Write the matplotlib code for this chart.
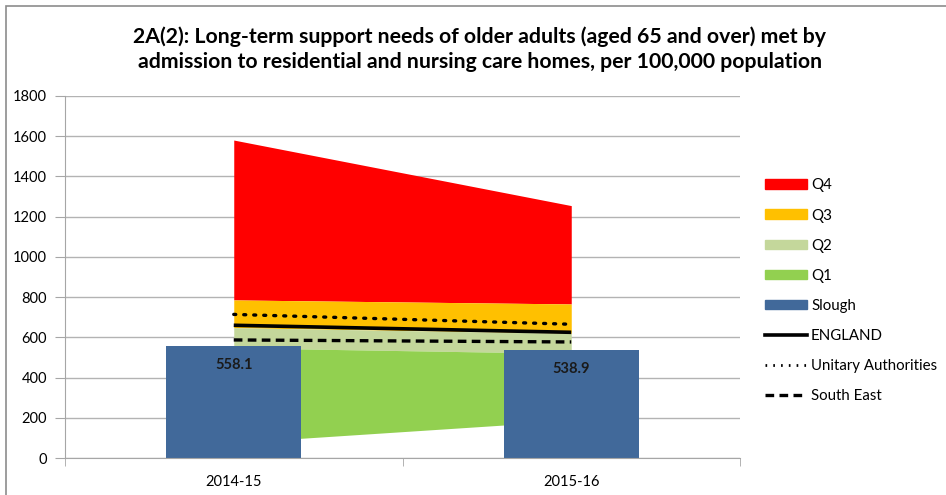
import matplotlib.pyplot as plt
from matplotlib.patches import Rectangle, Patch
from matplotlib.lines import Line2D

plt.rcParams['font.family'] = ['Lato', 'DejaVu Sans']

years = ['2014-15', '2015-16']
slough = [558.1, 538.9]

# quartile band boundaries across councils
q_min = [76, 186]
q1_top = [548, 520]
q2_top = [648, 620]
q3_top = [786, 766]
q4_top = [1581, 1255]

england = [660, 625]
unitary = [714, 665]
south_east = [587, 577]

fig = plt.figure(figsize=(9.46, 4.95), dpi=100)
ax = fig.add_axes([65 / 946, 37 / 495, 675 / 946, 362 / 495])

x = [0, 1]
ax.fill_between(x, q3_top, q4_top, color='#FF0000', lw=0, zorder=1)
ax.fill_between(x, q2_top, q3_top, color='#FFC000', lw=0, zorder=1)
ax.fill_between(x, q1_top, q2_top, color='#C4D79B', lw=0, zorder=1)
ax.fill_between(x, q_min, q1_top, color='#92D050', lw=0, zorder=1)

bars = ax.bar(x, slough, width=0.4, color='#41699A', zorder=2)
for b, v in zip(bars, slough):
    ax.text(b.get_x() + b.get_width() / 2, v - 60, f'{v:.1f}', ha='center', va='top',
            fontsize=10.5, fontweight='bold', color='#1a1a1a', zorder=4)

ax.plot(x, england, color='black', lw=2.6, solid_capstyle='butt', zorder=3)
ax.plot(x, unitary, color='black', lw=2.4, linestyle=(0, (0.6, 2.4)), dash_capstyle='round', zorder=3)
ax.plot(x, south_east, color='black', lw=2.4, linestyle=(0, (2.6, 1.6)), zorder=3)

ax.set_xlim(-0.5, 1.5)
ax.set_ylim(0, 1800)
ax.set_yticks(range(0, 1801, 200))
ax.set_xticks(x)
ax.set_xticklabels(years)
ax.set_xticks([-0.5, 0.5, 1.5], minor=True)
ax.tick_params(axis='x', which='major', length=0, pad=12, labelsize=10.5)
ax.tick_params(axis='x', which='minor', length=6, color='#A6A6A6', direction='out')
ax.tick_params(axis='y', length=7, color='#A6A6A6', labelsize=10.5, pad=6)
ax.grid(axis='y', color='#B3B3B3', lw=1, zorder=0)
ax.set_axisbelow(True)
for side in ['top', 'right']:
    ax.spines[side].set_visible(False)
for side in ['left', 'bottom']:
    ax.spines[side].set_color('#A6A6A6')

handles = [
    Patch(color='#FF0000', label='Q4'),
    Patch(color='#FFC000', label='Q3'),
    Patch(color='#C4D79B', label='Q2'),
    Patch(color='#92D050', label='Q1'),
    Patch(color='#41699A', label='Slough'),
    Line2D([], [], color='black', lw=2.6, label='ENGLAND'),
    Line2D([], [], color='black', lw=2, linestyle=(0, (0.6, 2.2)), label='Unitary Authorities'),
    Line2D([], [], color='black', lw=2.4, linestyle=(0, (2.6, 1.6)), label='South East'),
]
fig.legend(handles=handles, loc='upper left', bbox_to_anchor=(751 / 946, 1 - 165 / 495),
           frameon=False, fontsize=10.8, handlelength=2.8, handleheight=0.6,
           labelspacing=1.07, handletextpad=0.3)

fig.text(0.507, 1 - 37 / 495, '2A(2): Long-term support needs of older adults (aged 65 and over) met by',
         ha='center', va='center', fontsize=15.3, fontweight='bold')
fig.text(0.507, 1 - 62 / 495, 'admission to residential and nursing care homes, per 100,000 population',
         ha='center', va='center', fontsize=15.3, fontweight='bold')

fig.patches.append(Rectangle((6 / 946, -0.05), 1.1, 1.05 - 6 / 495, transform=fig.transFigure,
                             fill=False, edgecolor='#8C8C8C', lw=1.2))

fig.savefig('out.png', dpi=100)
